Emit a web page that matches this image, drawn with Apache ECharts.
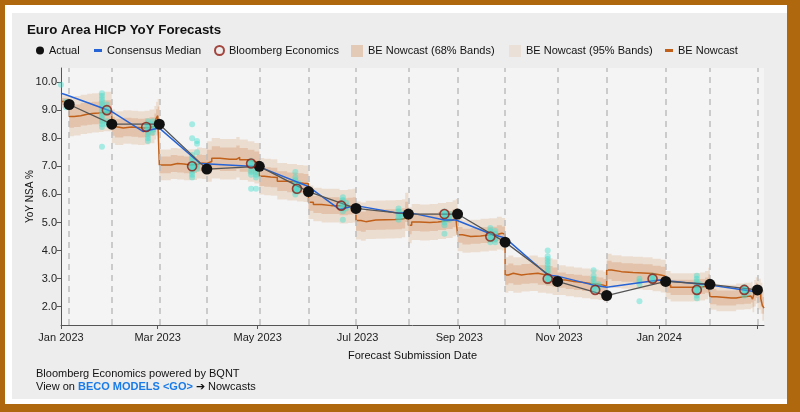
<!DOCTYPE html>
<html>
<head>
<meta charset="utf-8">
<script src="https://cdn.jsdelivr.net/npm/echarts@6.0.0/dist/echarts.min.js"></script>
<style>
  html, body { margin: 0; padding: 0; }
  body { width: 800px; height: 412px; background: #b0680e; position: relative; overflow: hidden; }
  #white { position: absolute; left: 5px; top: 5px; width: 782px; height: 399px; background: #ffffff; }
  #card { position: absolute; left: 12px; top: 13px; width: 775px; height: 386px; background: #ededed; }
  #chart { position: absolute; left: 0; top: 0; width: 800px; height: 412px; }
</style>
</head>
<body>
<div id="white"></div>
<div id="card"></div>
<div id="chart"></div>
<script>
// ---------------- DATA ----------------
const releaseDates = ['2023-01-06','2023-02-01','2023-03-02','2023-03-31','2023-05-02','2023-06-01','2023-06-30','2023-08-01','2023-08-31','2023-09-29','2023-10-31','2023-11-30','2024-01-05','2024-02-01','2024-03-01'];
const actualValues = [9.2, 8.5, 8.5, 6.9, 7.0, 6.1, 5.5, 5.3, 5.3, 4.3, 2.9, 2.4, 2.9, 2.8, 2.6];

const consensusDates = ['2023-01-01','2023-01-04','2023-02-01','2023-02-20','2023-02-25','2023-03-02','2023-03-27','2023-05-02','2023-06-01','2023-06-20','2023-06-30','2023-07-26','2023-08-01','2023-08-23','2023-08-30','2023-09-20','2023-09-29','2023-10-25','2023-10-31','2023-11-22','2023-11-30','2024-01-01','2024-02-01','2024-02-29'];
const consensusValues = [9.6, 9.55, 8.95, 8.24, 8.3, 8.36, 7.1, 6.98, 6.28, 5.47, 5.6, 5.33, 5.36, 5.09, 5.09, 4.6, 4.45, 3.13, 3.09, 2.77, 2.69, 2.95, 2.77, 2.53];

const beDates = ['2023-01-29','2023-02-22','2023-03-22','2023-04-27','2023-05-25','2023-06-21','2023-08-23','2023-09-20','2023-10-25','2023-11-23','2023-12-28','2024-01-24','2024-02-22'];
const beValues = [9.0, 8.4, 7.0, 7.1, 6.2, 5.6, 5.3, 4.5, 3.0, 2.6, 3.0, 2.6, 2.6];

const econDates = ['2023-01-01','2023-01-04','2023-01-26','2023-01-29','2023-02-23','2023-02-26','2023-03-22','2023-03-25','2023-04-27','2023-04-30','2023-05-24','2023-05-26','2023-06-22','2023-06-24','2023-07-26','2023-07-28','2023-08-23','2023-08-26','2023-09-20','2023-09-23','2023-10-25','2023-11-22','2023-11-25','2023-12-20','2023-12-28','2024-01-24','2024-01-26','2024-02-22','2024-02-24'];
const econValues = [
  [9.9],[9.3,9.2,9.1],[9.6,9.5,9.4,9.3,9.2,9.1,9.0,8.9,8.8,8.7,8.6,8.5,8.4,7.7],[9.2,9.0,8.9,8.6,8.5],
  [8.6,8.5,8.4,8.3,8.2,8.1,8.0,7.9],[8.6,8.5,8.4,8.3,8.2],
  [8.5,8.0,7.4,7.3,7.2,7.1,7.0,6.9,6.8,6.7,6.6],[7.9,7.8,7.5,7.1,7.0,6.9],
  [7.2,7.1,7.0,6.9,6.8,6.7,6.2],[7.0,6.9,6.8,6.7,6.6,6.2],
  [6.8,6.6,6.5,6.4,6.3,6.2,6.1,6.0],[6.4,6.3,6.2,6.1],
  [5.9,5.8,5.7,5.6,5.5,5.4,5.1],[5.7,5.6,5.5],
  [5.5,5.4,5.3,5.2,5.1],[5.3,5.2],
  [5.4,5.3,5.2,5.1,5.0,4.9,4.6],[5.3,5.2,5.1],
  [4.8,4.7,4.6,4.5,4.4,4.3],[4.7,4.6,4.5,4.4,4.3],
  [4.0,3.8,3.7,3.6,3.5,3.4,3.3,3.2,3.1,3.0,2.9],
  [3.3,3.1,3.0,2.9,2.8,2.7,2.6],[2.8,2.7],
  [3.0,2.9,2.8,2.2],[3.1,3.0,2.9],
  [3.1,3.0,2.9,2.8,2.7,2.6,2.5,2.4,2.3],[2.8,2.7],
  [2.7,2.6,2.5,2.4],[2.6,2.5]
];

const nowcastDates = [
  '2023-01-01',
  '2023-01-06','2023-01-09','2023-01-13','2023-01-17','2023-01-20','2023-01-24','2023-01-27',
  '2023-02-01','2023-02-03','2023-02-08','2023-02-13','2023-02-17','2023-02-21','2023-02-24','2023-02-27','2023-02-28','2023-03-01',
  '2023-03-02','2023-03-06','2023-03-09','2023-03-13','2023-03-17','2023-03-21','2023-03-25','2023-03-28',
  '2023-03-31','2023-04-03','2023-04-08','2023-04-14','2023-04-18','2023-04-20','2023-04-25','2023-04-29',
  '2023-05-02','2023-05-05','2023-05-09','2023-05-13','2023-05-19','2023-05-25','2023-05-29',
  '2023-06-01','2023-06-04','2023-06-09','2023-06-15','2023-06-20','2023-06-25','2023-06-28',
  '2023-06-30','2023-07-03','2023-07-06','2023-07-12','2023-07-18','2023-07-24','2023-07-28','2023-07-30',
  '2023-08-01','2023-08-03','2023-08-08','2023-08-14','2023-08-19','2023-08-24','2023-08-28','2023-08-30',
  '2023-08-31','2023-09-03','2023-09-08','2023-09-14','2023-09-19','2023-09-24','2023-09-27',
  '2023-09-29','2023-10-01','2023-10-04','2023-10-09','2023-10-14','2023-10-19','2023-10-24','2023-10-28',
  '2023-10-31','2023-11-05','2023-11-10','2023-11-15','2023-11-20','2023-11-25','2023-11-28',
  '2023-11-30','2023-12-03','2023-12-09','2023-12-16','2023-12-22','2023-12-28','2024-01-02',
  '2024-01-05','2024-01-08','2024-01-15','2024-01-22','2024-01-26','2024-01-29','2024-01-31',
  '2024-02-01','2024-02-05','2024-02-14','2024-02-17','2024-02-22','2024-02-26','2024-02-27','2024-02-28','2024-02-29',
  '2024-03-01','2024-03-03','2024-03-04','2024-03-05'
];
const nowcastValues = [
  9.31,
  8.77, 8.8, 8.85, 8.88, 8.9, 8.92, 8.95,
  8.42, 8.36, 8.4, 8.38, 8.36, 8.38, 8.42, 8.55, 8.7, 8.8,
  7.05, 7.05, 7.1, 7.08, 7.05, 7.06, 7.12, 7.1,
  7.17, 7.29, 7.25, 7.25, 7.32, 7.23, 7.17, 7.11,
  6.65, 6.62, 6.6, 6.47, 6.43, 6.4, 6.38,
  5.72, 5.64, 5.6, 5.6, 5.56, 5.58, 5.6,
  5.07, 5.03, 5.09, 5.1, 5.11, 5.12, 5.15, 5.38,
  4.9, 5.02, 5.0, 5.02, 5.05, 5.09, 5.15, 5.2,
  4.56, 4.5, 4.52, 4.55, 4.57, 4.62, 4.58,
  3.13, 3.19, 3.13, 3.17, 3.19, 3.13, 3.1, 3.05,
  2.95, 2.9, 2.87, 2.83, 2.8, 2.77, 2.72,
  3.31, 3.25, 3.22, 3.2, 3.18, 3.13, 3.09,
  2.77, 2.69, 2.69, 2.7, 2.72, 2.77, 2.89,
  2.36, 2.31, 2.31, 2.36, 2.38, 2.42, 2.27, 2.48, 2.58,
  2.45, 2.3, 2.05, 1.95
];
// half-widths of the bands, one per nowcast segment (between releases)
const band68 = [0.12, 0.4, 0.33, 0.3, 0.42, 0.35, 0.3, 0.36, 0.32, 0.28, 0.35, 0.27, 0.33, 0.27, 0.27, 0.3];
const band95 = [0.22, 0.7, 0.6, 0.55, 0.72, 0.65, 0.6, 0.68, 0.64, 0.58, 0.63, 0.53, 0.58, 0.5, 0.47, 0.55];

const xMinDate = '2023-01-01';
const xMaxDate = '2024-03-05';
const xTickDates = ['2023-01-01','2023-03-01','2023-05-01','2023-07-01','2023-09-01','2023-11-01','2024-01-01','2024-03-01'];
const xTickLabels = ['Jan 2023','Mar 2023','May 2023','Jul 2023','Sep 2023','Nov 2023','Jan 2024',''];
const yTicks = [2, 3, 4, 5, 6, 7, 8, 9, 10];
const yMin = 1.35, yMax = 10.5;

// ---------------- BUILD ----------------
const ts = s => Date.UTC(+s.slice(0, 4), +s.slice(5, 7) - 1, +s.slice(8, 10));
const FONT = "'Liberation Sans', Arial, sans-serif";

const nowcast = nowcastDates.map((d, i) => [ts(d), nowcastValues[i]]);
const boundaries = [ts(xMinDate)].concat(releaseDates.map(ts)).concat([ts(xMaxDate)]);
const actual = releaseDates.map((d, i) => [ts(d), actualValues[i]]);
const consensus = consensusDates.map((d, i) => [ts(d), consensusValues[i]]);
const be = beDates.map((d, i) => [ts(d), beValues[i]]);
const econ = [];
econDates.forEach((d, i) => econValues[i].forEach(v => econ.push([ts(d), v])));
const tickTs = xTickDates.map(ts);

function segPoints(k) {
  return nowcast.filter(p => p[0] >= boundaries[k] && p[0] < boundaries[k + 1]);
}
const segData = band68.map((w, k) => {
  const pts = segPoints(k);
  return [boundaries[k], pts.length ? pts[0][1] : 5, k];
});

function bandRenderer(widths, fill) {
  return function (params, api) {
    const k = api.value(2);
    const pts = segPoints(k);
    const segEnd = Math.min(boundaries[k + 1], ts(xMaxDate));
    const w = widths[k];
    const upper = [], lower = [];
    pts.forEach((p, i) => {
      const t1 = i < pts.length - 1 ? pts[i + 1][0] : segEnd;
      upper.push(api.coord([p[0], p[1] + w]), api.coord([t1, p[1] + w]));
      lower.push(api.coord([p[0], p[1] - w]), api.coord([t1, p[1] - w]));
    });
    if (!upper.length) return null;
    return { type: 'polygon', shape: { points: upper.concat(lower.reverse()) }, style: { fill: fill } };
  };
}

const DASH = 'path://M0,0h8v3h-8z';
function legendItem(left, width, item) {
  return {
    left: left, top: 45, padding: 0, itemWidth: width, itemHeight: 12, selectedMode: false,
    textStyle: { fontSize: 11, color: '#111', fontFamily: FONT },
    data: [item]
  };
}

const chart = echarts.init(document.getElementById('chart'), null, { renderer: 'canvas' });
chart.setOption({
  backgroundColor: 'transparent',
  animation: false,
  textStyle: { fontFamily: FONT },
  title: {
    text: 'Euro Area HICP YoY Forecasts', left: 27, top: 24, padding: 0,
    textStyle: { fontSize: 13.3, fontWeight: 'bold', color: '#111', fontFamily: FONT }
  },
  legend: [
    legendItem(36, 8, { name: 'Actual', icon: 'circle', itemStyle: { color: '#111' } }),
    legendItem(94, 8, { name: 'Consensus Median', icon: DASH, itemStyle: { color: '#2563d6' } }),
    legendItem(214, 9, { name: 'Bloomberg Economics', icon: 'circle', itemStyle: { color: 'rgba(255,255,255,0)', borderColor: '#8e1b12', borderWidth: 2 } }),
    legendItem(351, 12, { name: 'BE Nowcast (68% Bands)', icon: 'rect', itemStyle: { color: '#e2cab6' } }),
    legendItem(509, 12, { name: 'BE Nowcast (95% Bands)', icon: 'rect', itemStyle: { color: '#ebe0d7' } }),
    legendItem(665, 8, { name: 'BE Nowcast', icon: DASH, itemStyle: { color: '#c0601a' } })
  ],
  grid: { left: 61, right: 36, top: 68, bottom: 87, show: true, backgroundColor: '#f4f4f4', borderWidth: 0 },
  xAxis: {
    type: 'value', min: ts(xMinDate), max: ts(xMaxDate),
    name: 'Forecast Submission Date', nameLocation: 'middle', nameGap: 25, nameMoveOverlap: false,
    nameTextStyle: { fontSize: 11, color: '#111', fontFamily: FONT },
    axisLine: { lineStyle: { color: '#555', width: 1 } },
    axisTick: { show: true, length: 4, customValues: tickTs, lineStyle: { color: '#555' } },
    axisLabel: {
      customValues: tickTs, margin: 7, fontSize: 11, color: '#222', fontFamily: FONT,
      formatter: v => { const i = tickTs.indexOf(v); return i >= 0 ? xTickLabels[i] : ''; }
    },
    splitLine: { show: false }
  },
  yAxis: {
    type: 'value', min: yMin, max: yMax,
    name: 'YoY NSA %', nameLocation: 'middle', nameGap: 26, nameRotate: 90, nameMoveOverlap: false,
    nameTextStyle: { fontSize: 10, color: '#111', fontFamily: FONT },
    axisLine: { show: true, lineStyle: { color: '#555', width: 1 } },
    axisTick: { show: true, length: 4, customValues: yTicks, lineStyle: { color: '#555' } },
    axisLabel: { customValues: yTicks, margin: 4, fontSize: 11, color: '#222', fontFamily: FONT, formatter: v => v.toFixed(1) },
    splitLine: { show: false }
  },
  series: [
    {
      name: 'release-lines', type: 'line', data: [], z: 1, silent: true,
      markLine: {
        silent: true, symbol: ['none', 'none'], label: { show: false },
        lineStyle: { color: '#bdbdbd', width: 1.5, type: [6, 5] },
        data: releaseDates.map(d => ({ xAxis: ts(d) }))
      }
    },
    {
      name: 'BE Nowcast (95% Bands)', type: 'custom', z: 2, clip: true, silent: true,
      itemStyle: { color: '#ebe0d7' },
      renderItem: bandRenderer(band95, 'rgba(215,150,100,0.24)'),
      encode: { x: 0, y: 1 }, data: segData
    },
    {
      name: 'BE Nowcast (68% Bands)', type: 'custom', z: 3, clip: true, silent: true,
      itemStyle: { color: '#e2cab6' },
      renderItem: bandRenderer(band68, 'rgba(200,120,60,0.25)'),
      encode: { x: 0, y: 1 }, data: segData
    },
    {
      name: 'BE Nowcast', type: 'line', z: 4, step: 'end', showSymbol: false, symbol: 'none',
      lineStyle: { color: '#c0601a', width: 1.5 }, itemStyle: { color: '#c0601a' },
      data: nowcast
    },
    {
      name: 'Economists', type: 'scatter', z: 5, symbol: 'circle', symbolSize: 6,
      itemStyle: { color: 'rgba(64,224,208,0.55)' }, data: econ
    },
    {
      name: 'Consensus Median', type: 'line', z: 6, showSymbol: false, symbol: 'none',
      lineStyle: { color: '#2563d6', width: 1.5 }, itemStyle: { color: '#2563d6' },
      data: consensus
    },
    {
      name: 'Actual', type: 'line', z: 7, symbol: 'circle', symbolSize: 11, showSymbol: true,
      lineStyle: { color: '#555', width: 1.3 }, itemStyle: { color: '#111' },
      data: actual
    },
    {
      name: 'Bloomberg Economics', type: 'scatter', z: 8, symbol: 'circle', symbolSize: 9,
      itemStyle: { color: 'rgba(80,215,205,0.55)', borderColor: '#8e1b12', borderWidth: 1.6 },
      data: be
    }
  ],
  graphic: [
    { type: 'text', left: 36, top: 368, style: { text: 'Bloomberg Economics powered by BQNT', fontSize: 11, fill: '#111', fontFamily: FONT } },
    {
      type: 'text', left: 36, top: 381,
      style: {
        text: '{a|View on }{b|BECO MODELS <GO>}{a| ➔ Nowcasts}',
        fontSize: 11, fontFamily: FONT, fill: '#111',
        rich: {
          a: { fontSize: 11, fontFamily: FONT, fill: '#111', color: '#111' },
          b: { fontSize: 11, fontFamily: FONT, fontWeight: 'bold', fill: '#1a7be8', color: '#1a7be8' }
        }
      }
    }
  ]
});
</script>
</body>
</html>
